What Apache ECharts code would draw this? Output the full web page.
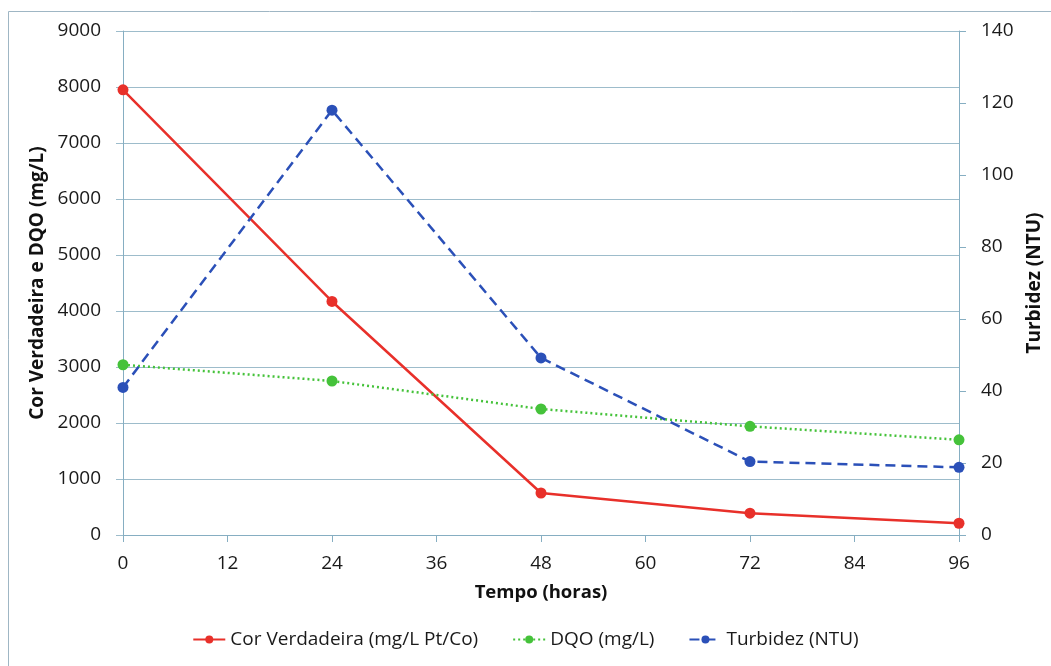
<!DOCTYPE html>
<html>
<head>
<meta charset="utf-8">
<script src="https://cdn.jsdelivr.net/npm/echarts@6/dist/echarts.min.js"></script>
<style>
  html, body { margin: 0; padding: 0; background: #fff; }
  #chart { width: 1051px; height: 666px; }
</style>
</head>
<body>
<div id="chart"></div>
<script>
const horas = [0, 24, 48, 72, 96];
const corVerdadeira = [7950, 4170, 750, 390, 210];
const dqo = [3040, 2750, 2250, 1940, 1700];
const turbidez = [41, 118, 49.2, 20.4, 18.8];

const font = '"Open Sans", "Noto Sans", sans-serif';
const gridColor = '#9dbccb';
const axisColor = '#86aec2';

const pairs = (ys) => horas.map((x, i) => [x, ys[i]]);

const chart = echarts.init(document.getElementById('chart'));

const option = {
  animation: false,
  textStyle: { fontFamily: font },
  graphic: [
    {
      type: 'rect',
      shape: { x: 8.5, y: 11.5, width: 1100, height: 700 },
      style: { fill: 'none', stroke: '#9fb6c4', lineWidth: 1 },
      silent: true
    }
  ],
  grid: { left: 123, right: 92, top: 31, bottom: 131, outerBoundsMode: 'none' },
  legend: {
    bottom: 12,
    left: 'center',
    itemWidth: 32,
    itemHeight: 10,
    itemGap: 34,
    textStyle: { fontSize: 19, color: '#1a1a1a', fontFamily: font }
  },
  xAxis: {
    type: 'value',
    min: 0,
    max: 96,
    interval: 12,
    name: 'Tempo (horas)',
    nameLocation: 'middle',
    nameGap: 48,
    nameTextStyle: { fontSize: 18.5, fontWeight: 'bold', color: '#111' },
    axisLine: { show: true, onZero: false, lineStyle: { color: axisColor } },
    axisTick: { show: true, length: 7, lineStyle: { color: axisColor } },
    axisLabel: { fontSize: 19, color: '#1a1a1a', margin: 19 },
    splitLine: { show: false }
  },
  yAxis: [
    {
      type: 'value',
      min: 0,
      max: 9000,
      interval: 1000,
      name: 'Cor Verdadeira e DQO (mg/L)',
      nameLocation: 'middle',
      nameRotate: 90,
      nameGap: 74,
      nameTextStyle: { fontSize: 19, fontWeight: 'bold', color: '#111' },
      axisLine: { show: true, lineStyle: { color: axisColor } },
      axisTick: { show: true, length: 7, lineStyle: { color: gridColor } },
      axisLabel: { fontSize: 19, color: '#1a1a1a', margin: 22, formatter: (v) => String(v) },
      splitLine: { show: true, lineStyle: { color: gridColor, width: 1 } }
    },
    {
      type: 'value',
      min: 0,
      max: 140,
      interval: 20,
      position: 'right',
      name: 'Turbidez (NTU)',
      nameLocation: 'middle',
      nameRotate: 90,
      nameGap: 66,
      nameTextStyle: { fontSize: 19, fontWeight: 'bold', color: '#111' },
      axisLine: { show: true, lineStyle: { color: axisColor } },
      axisTick: { show: true, length: 7, lineStyle: { color: axisColor } },
      axisLabel: { fontSize: 19, color: '#1a1a1a', margin: 22, formatter: (v) => String(v) },
      splitLine: { show: false }
    }
  ],
  series: [
    {
      name: 'Cor Verdadeira (mg/L Pt/Co)',
      type: 'line',
      yAxisIndex: 0,
      data: pairs(corVerdadeira),
      symbol: 'circle',
      symbolSize: 11,
      itemStyle: { color: '#e8302a' },
      lineStyle: { color: '#e8302a', width: 2.5 }
    },
    {
      name: 'DQO (mg/L)',
      type: 'line',
      yAxisIndex: 0,
      data: pairs(dqo),
      symbol: 'circle',
      symbolSize: 11,
      itemStyle: { color: '#45c23a' },
      lineStyle: { color: '#45c23a', width: 2.5, type: [2, 3] }
    },
    {
      name: 'Turbidez (NTU)',
      type: 'line',
      yAxisIndex: 1,
      data: pairs(turbidez),
      symbol: 'circle',
      symbolSize: 11,
      itemStyle: { color: '#2b50b8' },
      lineStyle: { color: '#2b50b8', width: 2.5, type: [10, 6] }
    }
  ]
};

chart.setOption(option);
</script>
</body>
</html>
